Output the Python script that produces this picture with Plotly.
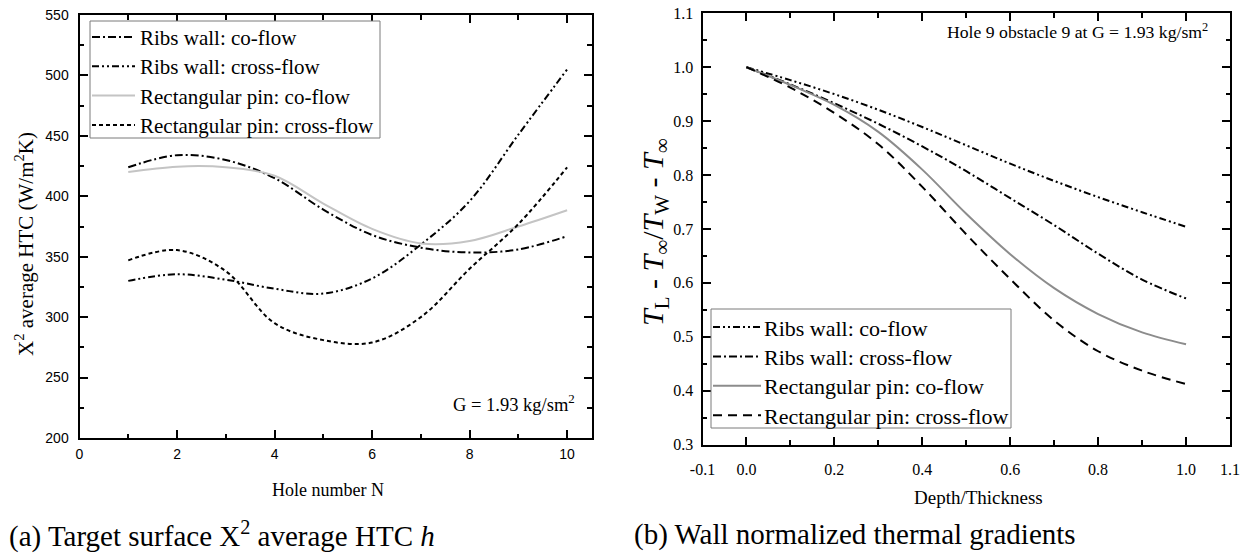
import plotly.graph_objects as go

# ---- (a) Target surface X^2 average HTC ----
hole_n = [1, 2, 3, 4, 5, 6, 7, 8, 9, 10]
htc_ribs_co = [424, 434, 430, 415, 389, 368, 357.5, 353.5, 356, 367]
htc_ribs_cross = [330, 335.5, 331, 323.5, 319.5, 332, 360, 396, 451, 505]
htc_pin_co = [420, 424.5, 424, 417, 394, 373, 361, 363, 375, 388.5]
htc_pin_cross = [347, 355.5, 338, 295, 281, 279, 300, 340, 377, 424]

# ---- (b) Wall normalized thermal gradients ----
depth = [0.0, 0.1, 0.2, 0.3, 0.4, 0.5, 0.6, 0.7, 0.8, 0.9, 1.0]
grad_ribs_co = [1.0, 0.976, 0.95, 0.921, 0.889, 0.855, 0.821, 0.789, 0.759, 0.731, 0.704]
grad_ribs_cross = [1.0, 0.968, 0.933, 0.895, 0.853, 0.807, 0.757, 0.707, 0.654, 0.606, 0.571]
grad_pin_co = [1.0, 0.967, 0.93, 0.88, 0.81, 0.728, 0.653, 0.59, 0.542, 0.508, 0.486]
grad_pin_cross = [1.0, 0.962, 0.915, 0.857, 0.778, 0.69, 0.607, 0.53, 0.473, 0.437, 0.412]

series_names = ["Ribs wall: co-flow", "Ribs wall: cross-flow",
                "Rectangular pin: co-flow", "Rectangular pin: cross-flow"]

left_xticks = [0, 2, 4, 6, 8, 10]
left_yticks = [200, 250, 300, 350, 400, 450, 500, 550]
right_xticks = [-0.1, 0.0, 0.2, 0.4, 0.6, 0.8, 1.0, 1.1]
right_xlabels = ["-0.1", "0.0", "0.2", "0.4", "0.6", "0.8", "1.0", "1.1"]
right_yticks = [0.3, 0.4, 0.5, 0.6, 0.7, 0.8, 0.9, 1.0, 1.1]

SERIF = "Liberation Serif"
SANS = "Liberation Sans"

DASH_DOT = "8px,3px,2px,3px"
DASH_DOT_DOT = "7px,3px,2px,3px,2px,3px"
SHORT_DASH = "4px,3px"
LONG_DASH = "9px,6px"

W, H = 1245, 553


def px_x(p):
    return p / W


def px_y(p):
    return 1 - p / H


fig = go.Figure()

left_styles = [("black", DASH_DOT), ("black", DASH_DOT_DOT),
               ("#c4c4c4", "solid"), ("black", SHORT_DASH)]
right_styles = [("black", DASH_DOT_DOT), ("black", DASH_DOT),
                ("#8c8c8c", "solid"), ("black", LONG_DASH)]

for name, vals, (color, dash) in zip(
        series_names, [htc_ribs_co, htc_ribs_cross, htc_pin_co, htc_pin_cross], left_styles):
    fig.add_trace(go.Scatter(
        x=hole_n, y=vals, name=name, mode="lines", showlegend=False,
        line=dict(color=color, dash=dash, width=2, shape="spline"),
        xaxis="x", yaxis="y",
    ))

for name, vals, (color, dash) in zip(
        series_names, [grad_ribs_co, grad_ribs_cross, grad_pin_co, grad_pin_cross], right_styles):
    fig.add_trace(go.Scatter(
        x=depth, y=vals, name=name, mode="lines", showlegend=False,
        line=dict(color=color, dash=dash, width=2, shape="spline"),
        xaxis="x2", yaxis="y2",
    ))

axis_common = dict(
    showline=True, linecolor="black", linewidth=2, mirror="ticks",
    ticks="inside", ticklen=8, tickwidth=1.5, tickcolor="black",
    showgrid=False, zeroline=False,
)


def minor(dtick, tick0):
    return dict(dtick=dtick, tick0=tick0, ticks="inside", ticklen=4.5,
                tickcolor="black", tickwidth=1.5)


fig.update_layout(
    width=W, height=H,
    margin=dict(l=0, r=0, t=0, b=0, autoexpand=False),
    paper_bgcolor="white", plot_bgcolor="white",
    showlegend=False,
    xaxis=dict(
        domain=[px_x(79.5), px_x(591.5)], range=[0, 10.5],
        tickvals=left_xticks, ticktext=[str(v) for v in left_xticks],
        tickfont=dict(family=SANS, size=14, color="black"),
        ticklabelstandoff=2, minor=minor(1, 0),
        anchor="y", **axis_common,
    ),
    yaxis=dict(
        domain=[px_y(438), px_y(15)], range=[200, 550],
        tickvals=left_yticks, ticktext=[str(v) for v in left_yticks],
        tickfont=dict(family=SANS, size=14, color="black"),
        ticklabelstandoff=6, minor=minor(25, 200),
        anchor="x", **axis_common,
    ),
    xaxis2=dict(
        domain=[px_x(702.5), px_x(1230)], range=[-0.1, 1.1],
        tickvals=right_xticks, ticktext=right_xlabels,
        tickfont=dict(family=SERIF, size=16, color="black"),
        ticklabelstandoff=9, minor=minor(0.1, -0.1),
        anchor="y2", **axis_common,
    ),
    yaxis2=dict(
        domain=[px_y(444.5), px_y(13.3)], range=[0.3, 1.1],
        tickvals=right_yticks, ticktext=[f"{v:.1f}" for v in right_yticks],
        tickfont=dict(family=SERIF, size=16, color="black"),
        ticklabelstandoff=4, minor=minor(0.05, 0.3),
        anchor="x2", **axis_common,
    ),
)

shapes = []
annotations = []


def add_legend(box, swatch_x, text_x, row0, row_gap, styles, font_size):
    x0, y0, x1, y1 = box
    shapes.append(dict(type="rect", xref="paper", yref="paper",
                       x0=px_x(x0), x1=px_x(x1), y0=px_y(y1), y1=px_y(y0),
                       line=dict(color="#7a7a7a", width=1), fillcolor="white"))
    for i, (name, (color, dash)) in enumerate(zip(series_names, styles)):
        yc = row0 + i * row_gap
        shapes.append(dict(type="line", xref="paper", yref="paper",
                           x0=px_x(swatch_x[0]), x1=px_x(swatch_x[1]),
                           y0=px_y(yc), y1=px_y(yc),
                           line=dict(color=color, dash=dash, width=2)))
        annotations.append(dict(text=name, x=px_x(text_x), y=px_y(yc + 1),
                                xanchor="left",
                                font=dict(family=SERIF, size=font_size)))


add_legend((90, 21, 380, 138), (92, 135), 138, 37, 29.3, left_styles, 21)
add_legend((711, 309, 1011, 428), (713, 761), 762, 327, 29.4, right_styles, 22)

annotations += [
    # axis titles
    dict(text="X<sup>2</sup> average HTC (W/m<sup>2</sup>K)", x=px_x(24), y=px_y(244),
         textangle=-90, font=dict(family=SERIF, size=21)),
    dict(text="Hole number N", x=px_x(327.5), y=px_y(490),
         font=dict(family=SERIF, size=18)),
    dict(text="<i>T</i><sub>L</sub> - <i>T</i><sub>\u221e</sub>/<i>T</i><sub>W</sub> - <i>T</i><sub>\u221e</sub>",
         x=px_x(655), y=px_y(232), textangle=-90, font=dict(family=SERIF, size=30)),
    dict(text="Depth/Thickness", x=px_x(978), y=px_y(498),
         font=dict(family=SERIF, size=19)),
    # in-plot notes
    dict(text="G = 1.93 kg/sm<sup>2</sup>", x=px_x(577), y=px_y(403),
         xanchor="right", font=dict(family=SERIF, size=18.5)),
    dict(text="Hole 9 obstacle 9 at G = 1.93 kg/sm<sup>2</sup>", x=px_x(1210), y=px_y(31),
         xanchor="right", font=dict(family=SERIF, size=17.7)),
    # captions
    dict(text="(a) Target surface X<sup>2</sup> average HTC <i>h</i>", x=px_x(7), y=px_y(534),
         xanchor="left", font=dict(family=SERIF, size=29)),
    dict(text="(b) Wall normalized thermal gradients", x=px_x(632), y=px_y(534),
         xanchor="left", font=dict(family=SERIF, size=29)),
]
for a in annotations:
    a.setdefault("xanchor", "center")
    a.update(xref="paper", yref="paper", showarrow=False, yanchor="middle")
    a["font"].setdefault("color", "black")

fig.update_layout(shapes=shapes, annotations=annotations)

fig.write_html("out.html")
